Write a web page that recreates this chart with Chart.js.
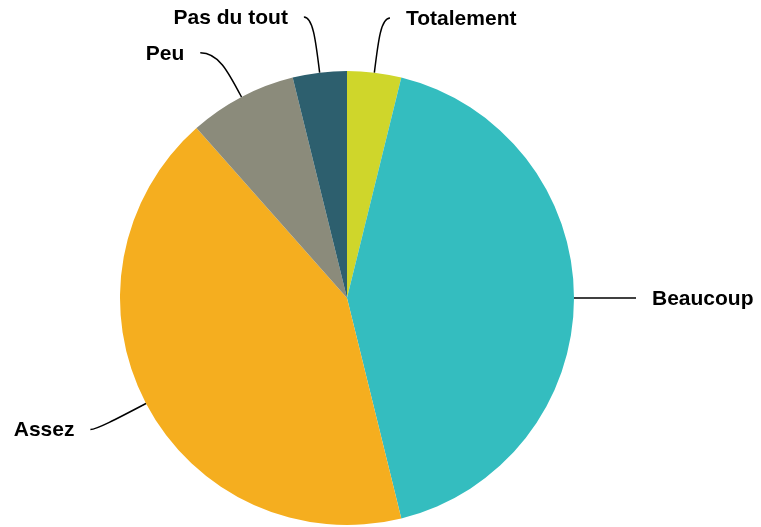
<!DOCTYPE html>
<html lang="fr">
<head>
<meta charset="UTF-8">
<title>Camembert</title>
<script src="https://cdn.jsdelivr.net/npm/chart.js"></script>
<style>
  body { margin: 0; background: #fff; }
</style>
</head>
<body>
<canvas id="Graphique" width="761" height="527"></canvas>
<script>
// données
var categories = ['Totalement', 'Beaucoup', 'Assez', 'Peu', 'Pas du tout'];
var valeurs = [1, 11, 11, 2, 1];
var couleurs = ['#cfd62b', '#34bdbf', '#f5ae1f', '#8b8b7b', '#2d5f6e'];

// réglages des étiquettes : longueur radiale puis crochet horizontal
var renvois = [
    { ext: 55, crochet: 9 },
    { ext: 62, crochet: 0 },
    { ext: 56, crochet: -6 },
    { ext: 50, crochet: -18 },
    { ext: 56, crochet: -9 }
];

var etiquettes = {
    id: 'etiquettes',
    afterDatasetsDraw: function (chart) {
        var ctx = chart.ctx;
        var arcs = chart.getDatasetMeta(0).data;
        ctx.save();
        ctx.strokeStyle = '#000';
        ctx.lineWidth = 1.5;
        ctx.fillStyle = '#000';
        ctx.font = 'bold 21px "Liberation Sans", Arial, sans-serif';
        ctx.textBaseline = 'middle';
        arcs.forEach(function (arc, i) {
            var p = arc.getProps(['x', 'y', 'startAngle', 'endAngle', 'outerRadius'], true);
            var a = (p.startAngle + p.endAngle) / 2;
            var cos = Math.cos(a), sin = Math.sin(a);
            var r = p.outerRadius;
            var x0 = p.x + cos * r, y0 = p.y + sin * r;
            var xe = p.x + cos * (r + renvois[i].ext), ye = p.y + sin * (r + renvois[i].ext);
            var x1 = xe + renvois[i].crochet, y1 = ye;
            ctx.beginPath();
            ctx.moveTo(x0, y0);
            var xm = p.x + cos * (r + renvois[i].ext * 0.6), ym = p.y + sin * (r + renvois[i].ext * 0.6);
            ctx.bezierCurveTo(xm, ym, xe, ye, x1, y1);
            ctx.stroke();
            var droite = x1 >= p.x;
            ctx.textAlign = droite ? 'left' : 'right';
            ctx.fillText(categories[i], x1 + (droite ? 16 : -16), y1 + 1);
        });
        ctx.restore();
    }
};

var graphique = new Chart(document.getElementById('Graphique'), {
    type: 'pie',
    data: {
        labels: categories,
        datasets: [{
            data: valeurs,
            backgroundColor: couleurs,
            borderWidth: 0
        }]
    },
    options: {
        responsive: false,
        animation: false,
        layout: { padding: { top: 71, bottom: 2, left: 120, right: 187 } },
        plugins: {
            legend: { display: false },
            tooltip: { enabled: false }
        }
    },
    plugins: [etiquettes]
});
</script>
</body>
</html>
